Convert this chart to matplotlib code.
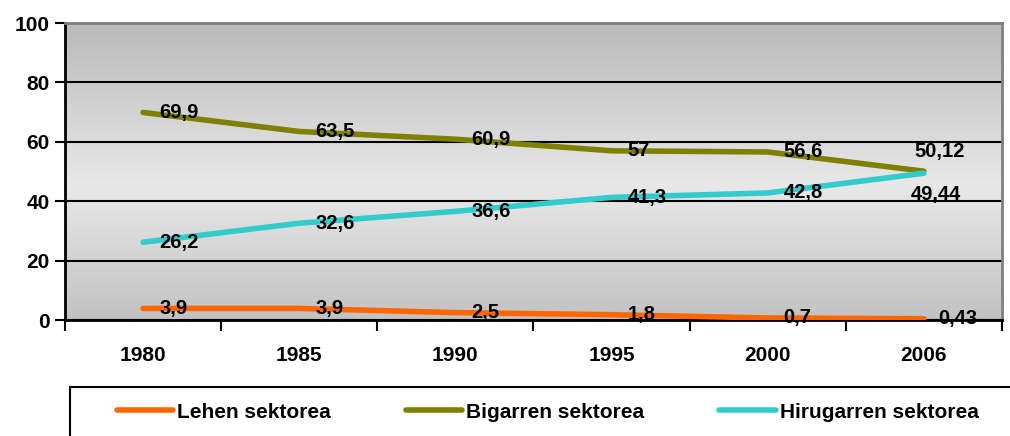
import matplotlib.pyplot as plt
import numpy as np
from matplotlib.patches import Rectangle
from matplotlib.colors import LinearSegmentedColormap

plt.rcParams['font.family'] = ['Liberation Sans', 'DejaVu Sans']
plt.rcParams['font.weight'] = 'bold'

years = ['1980', '1985', '1990', '1995', '2000', '2006']
lehen = [3.9, 3.9, 2.5, 1.8, 0.7, 0.43]
bigarren = [69.9, 63.5, 60.9, 57, 56.6, 50.12]
hirugarren = [26.2, 32.6, 36.6, 41.3, 42.8, 49.44]
lehen_lbl = ['3,9', '3,9', '2,5', '1,8', '0,7', '0,43']
bigarren_lbl = ['69,9', '63,5', '60,9', '57', '56,6', '50,12']
hirugarren_lbl = ['26,2', '32,6', '36,6', '41,3', '42,8', '49,44']

fig = plt.figure(figsize=(10.1, 4.36), dpi=100)
ax = fig.add_axes([0.0644, 0.266, 0.9276, 0.681])

# background gradient (dark - light - dark)
cmap = LinearSegmentedColormap.from_list(
    'bg', [(0.0, '#c2c2c2'), (0.45, '#e8e8e8'), (1.0, '#bababa')])
grad = np.linspace(0, 1, 256).reshape(-1, 1)
ax.imshow(grad, cmap=cmap, aspect='auto', origin='lower',
          extent=[0, 1, 0, 1], transform=ax.transAxes, zorder=0)

x = np.arange(len(years))
ax.plot(x, lehen, color='#ff6600', lw=4, solid_capstyle='round', zorder=3)
ax.plot(x, bigarren, color='#808000', lw=4, solid_capstyle='round', zorder=3)
ax.plot(x, hirugarren, color='#33cccc', lw=4, solid_capstyle='round', zorder=3)

fs = 14.5
for i in range(len(years)):
    if i < 5:
        for vals, lbls in [(bigarren, bigarren_lbl), (hirugarren, hirugarren_lbl), (lehen, lehen_lbl)]:
            ax.annotate(lbls[i], (x[i], vals[i]), xytext=(11.5, 0), fontweight='bold',
                        textcoords='offset points', va='center', ha='left', fontsize=fs, zorder=4)
    else:
        ax.annotate(bigarren_lbl[i], (x[i], bigarren[i]), xytext=(11.5, 14), fontweight='bold',
                    textcoords='offset points', va='center', ha='center', fontsize=fs, zorder=4)
        ax.annotate(hirugarren_lbl[i], (x[i], hirugarren[i]), xytext=(8.5, -15), fontweight='bold',
                    textcoords='offset points', va='center', ha='center', fontsize=fs, zorder=4)
        ax.annotate(lehen_lbl[i], (x[i], lehen[i]), xytext=(10.5, 0), fontweight='bold',
                    textcoords='offset points', va='center', ha='left', fontsize=fs, zorder=4)

ax.set_xlim(-0.5, 5.5)
ax.set_ylim(0, 100)
ax.set_yticks([0, 20, 40, 60, 80, 100])
ax.yaxis.grid(True, color='black', lw=1.5, zorder=1)
ax.set_axisbelow(True)
ax.set_xticks(x)
ax.set_xticklabels(years, fontweight='bold')
ax.set_yticklabels(['0', '20', '40', '60', '80', '100'], fontweight='bold')
ax.set_xticks(np.arange(-0.5, 6, 1), minor=True)
ax.tick_params(axis='x', which='major', length=0, pad=19, labelsize=15)
ax.tick_params(axis='x', which='minor', length=8, width=1.5, direction='out')
ax.tick_params(axis='y', length=7, width=1.5, labelsize=15, pad=4)

for s in ['left', 'bottom']:
    ax.spines[s].set_linewidth(2)
    ax.spines[s].set_color('black')
for s in ['top', 'right']:
    ax.spines[s].set_linewidth(2)
    ax.spines[s].set_color('#7f7f7f')

# legend with box running off the bottom-right edge
fig.patches.append(Rectangle((0.069, -0.05), 1.0, 0.162, transform=fig.transFigure,
                             fill=False, edgecolor='black', lw=1.5))
handles = [plt.Line2D([], [], color='#ff6600', lw=4, solid_capstyle='round'),
           plt.Line2D([], [], color='#808000', lw=4, solid_capstyle='round'),
           plt.Line2D([], [], color='#33cccc', lw=4, solid_capstyle='round')]
fig.legend(handles, ['Lehen sektorea', 'Bigarren sektorea', 'Hirugarren sektorea'],
           loc='center left', bbox_to_anchor=(0.097, 0.055), ncol=3, frameon=False,
           prop={'size': 15, 'weight': 'bold'},
           handlelength=2.7, handletextpad=0.2, columnspacing=3.6)

plt.savefig('out.png', dpi=100)
plt.close()
